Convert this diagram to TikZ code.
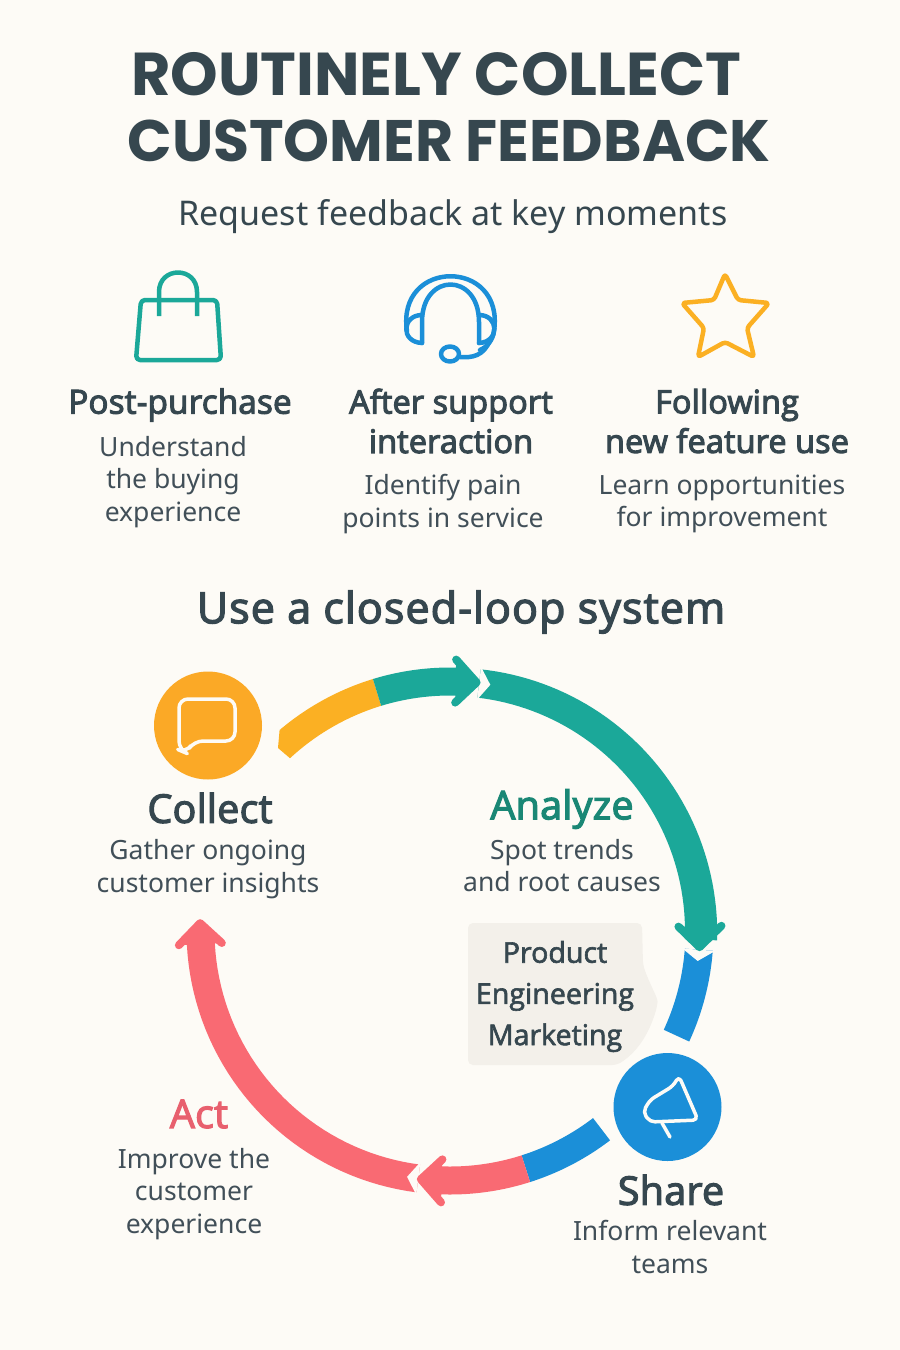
\documentclass[tikz,border=0pt]{standalone}
\usepackage{fontspec}
\setmainfont{Noto Sans}
\newfontfamily\popf{Poppins}
\newfontfamily\semf{Open Sans}[LetterSpace=0.6]
\newfontfamily\sectf{Open Sans}[LetterSpace=2.5]
\newfontfamily\medf{Open Sans}
\usetikzlibrary{calc}
\definecolor{bgc}{HTML}{FDFBF6}
\definecolor{ink}{HTML}{36474F}
\definecolor{bodyc}{HTML}{414F58}
\definecolor{yel}{HTML}{FBB023}
\definecolor{orc}{HTML}{FBA926}
\definecolor{tea}{HTML}{1BA899}
\definecolor{teadark}{HTML}{1A8775}
\definecolor{blu}{HTML}{1B8FD8}
\definecolor{red1}{HTML}{F96A73}
\definecolor{redt}{HTML}{E8606E}
\definecolor{call}{HTML}{F3F0EA}
\newcommand\fs[2]{\fontsize{#1}{#2}\selectfont}
\newcommand\heavy[2]{\special{pdf:code 2 Tr #1 w}#2\special{pdf:code 0 Tr}}
\tikzset{
  titlet/.style={text=ink,inner sep=0},
  subt/.style={text=ink,font=\fs{34}{40},inner sep=0},
  sect/.style={text=ink,font=\sectf\fs{43}{46},inner sep=0},
  head/.style={text=ink,font=\semf\fs{32.3}{39.5},align=center,inner sep=0},
  stage/.style={font=\semf\fs{39.5}{42},inner sep=0},
  bodyt/.style={text=bodyc,font=\fs{26.5}{32.3},align=center,inner sep=0},
  callt/.style={text=ink,font=\medf\fs{28.6}{41.2},align=center,inner sep=0},
  iconl/.style={line width=4.5pt,line join=round,line cap=round,fill=none},
  disc/.style={circle,minimum size=108pt,inner sep=0},
  glyph/.style={draw=bgc,line width=3.5pt,line join=round,line cap=round}
}
\newcommand\band[3]{\fill[#3] plot[domain=#1:#2,samples=40] ({450+263.5*cos(\x)},{931-263.5*sin(\x)}) -- plot[domain=#2:#1,samples=40] ({450+235.5*cos(\x)},{931-235.5*sin(\x)}) -- cycle;}
\newcommand\notch[1]{\fill[bgc] ({450+266*cos(#1+0.3)},{931-266*sin(#1+0.3)}) -- ({450+249.5*cos(#1-2.3)},{931-249.5*sin(#1-2.3)}) -- ({450+233*cos(#1+0.3)},{931-233*sin(#1+0.3)}) -- cycle;}
\newcommand\ringhead[2]{\filldraw[#2,line width=8pt,line join=round,line cap=round] ({450+271.5*cos(#1+5.7)},{931-271.5*sin(#1+5.7)}) -- ({450+250*cos(#1+0.9)},{931-250*sin(#1+0.9)}) -- ({450+228.5*cos(#1+5.7)},{931-228.5*sin(#1+5.7)});}
\begin{document}
\begin{tikzpicture}[x=1pt,y=-1pt]
\fill[bgc] (0,0) rectangle (900,1350);
\useasboundingbox (0,0) rectangle (900,1350);
% titles
\node[titlet,font=\popf\bfseries\fs{60.5}{66}] (t1) at (436,74) {ROUTINELY COLLECT};
\node[titlet,font=\popf\bfseries\fs{58.5}{66}] (t2) at (449,141) {CUSTOMER FEEDBACK};
\node[subt] (sub) at (453,217) {Request feedback at key moments};
% bag
\draw[tea,iconl,rounded corners=4pt] (141,300) -- (217,300) -- (221,360) -- (136,360) -- cycle;
\draw[tea,iconl,line cap=butt] (159,316) -- (159,292) .. controls (159,266) and (197,266) .. (197,292) -- (197,316);
% headset
\draw[blu,iconl] (407,331) .. controls (396,258) and (505,258) .. (494,331) .. controls (493,340) and (487,347) .. (480,350);
\draw[blu,iconl] (422,343) -- (422,322) .. controls (422,272) and (479,272) .. (479,322) -- (479,343);
\draw[blu,iconl] (422,315) .. controls (402,315) and (400,342) .. (422,343);
\draw[blu,iconl] (479,315) .. controls (499,315) and (500,342) .. (479,343);
\draw[blu,iconl] (490,340) .. controls (484,356) and (472,358) .. (460,357);
\draw[blu,iconl] (450,354) ellipse[x radius=9,y radius=7.5];
% star
\draw[yel,iconl,rounded corners=3pt] (725,274) -- (738,300) -- (769,303) -- (747,328) -- (754,357) -- (725,342) -- (698,357) -- (704,328) -- (682,303) -- (714,300) -- cycle;
% column labels
\node[head,font=\semf\fs{33.2}{39.5}] (h1) at (180,405) {\heavy{1.1}{Post-purchase}};
\node[bodyt] (b1) at (173,482) {Understand\\the buying\\experience};
\node[head] (h2) at (451,421) {\heavy{1.1}{After support\\interaction}};
\node[bodyt] (b2) at (443,504) {Identify pain\\points in service};
\node[head] (h3) at (727,421) {\heavy{1.1}{Following\\new feature use}};
\node[bodyt] (b3) at (722,504) {Learn opportunities\\for improvement};
\node[sect] (sec) at (461,612) {\heavy{1.3}{Use a closed-loop system}};
% ring
\fill[yel] plot[domain=107:130.3,samples=30] ({450+263.5*cos(\x)},{931-263.5*sin(\x)}) -- (278,748) -- plot[domain=132.8:107,samples=30] ({450+235.5*cos(\x)},{931-235.5*sin(\x)}) -- cycle;
\band{107}{86}{tea}
\fill[tea] plot[domain=83.3:-2,samples=50] ({450+(263.5+(83.3-\x)*0.045)*cos(\x)},{931-(263.5+(83.3-\x)*0.045)*sin(\x)}) -- plot[domain=-2:83.3,samples=50] ({450+235*cos(\x)},{931-235*sin(\x)}) -- cycle;
\notch{83}
\ringhead{83}{tea}
\band{-4.3}{-24.8}{blu}
\notch{-4.6}
\ringhead{-4.6}{tea}
\band{-52.6}{-72.3}{blu}
\band{-72.3}{-94}{red1}
\band{-97.3}{-179}{red1}
\notch{-97.6}
\ringhead{-97.6}{red1}
\ringhead{-182.7}{red1}
% callout
\fill[call,rounded corners=5pt] (468,923) -- (642,923) -- (643,965) .. controls (650,985) and (658,998) .. (657,1007) .. controls (650,1030) and (640,1050) .. (617,1065) -- (468,1065) -- cycle;
\node[callt] (cl) at (555,996.5) {\heavy{0.6}{Product\\Engineering\\Marketing}};
% discs
\node[disc,fill=orc] (collect) at (208,725.5) {};
\draw[glyph,rounded corners=9pt] (179,699) -- (235,699) -- (235,741) -- (194,741) -- (186,753) -- (179,750) -- cycle;
\node[disc,fill=blu] (share) at (667.5,1107) {};
\draw[glyph,rounded corners=5pt] (673,1086) -- (650,1100) -- (643,1112) -- (650,1122) -- (698,1120) -- (679,1076) -- cycle;
\draw[glyph] (662,1123) -- (670,1137);
% stage labels
\node[stage,text=ink] (l1) at (210,808) {\heavy{1.2}{Collect}};
\node[bodyt] (d1) at (208,869) {Gather ongoing\\customer insights};
\node[stage,text=teadark] (l2) at (562,809) {\heavy{1.2}{Analyze}};
\node[bodyt] (d2) at (562,865.5) {Spot trends\\and root causes};
\node[stage,text=ink] (l3) at (671,1190) {\heavy{1.2}{Share}};
\node[bodyt] (d3) at (670,1247) {Inform relevant\\teams};
\node[stage,text=redt] (l4) at (199,1114) {\heavy{1.2}{Act}};
\node[bodyt] (d4) at (194,1194) {Improve the\\customer\\experience};
\end{tikzpicture}
\end{document}
